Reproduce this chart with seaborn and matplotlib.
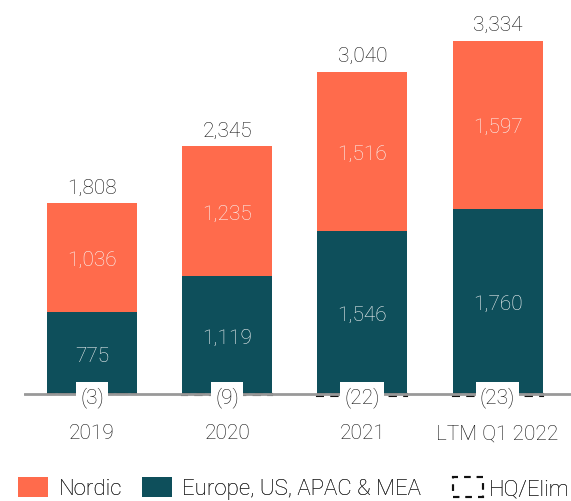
import matplotlib
matplotlib.use("Agg")
import matplotlib.pyplot as plt
import seaborn as sns
import pandas as pd
from matplotlib.patches import Patch

categories = ["2019", "2020", "2021", "LTM Q1 2022"]
europe = [775, 1119, 1546, 1760]
nordic = [1036, 1235, 1516, 1597]
hq_elim = [-3, -9, -22, -23]
totals = [1808, 2345, 3040, 3334]

ORANGE = "#FF6B4C"
TEAL = "#0E4F5B"
TXT = "#111111"

sns.set_theme(style="white")
plt.rcParams["font.family"] = ["Roboto", "DejaVu Sans"]
plt.rcParams["font.weight"] = "light"

df = pd.DataFrame({"cat": categories, "europe": europe, "nordic": nordic,
                   "hq": hq_elim, "stack": [e + n for e, n in zip(europe, nordic)]})

W, H = 571, 502
fig = plt.figure(figsize=(W / 100, H / 100), dpi=100)
ax = fig.add_axes([24 / W, 0, 1 - 24 / W, 1])

bw = 0.666
sns.barplot(data=df, x="cat", y="stack", color=ORANGE, width=bw, saturation=1,
            ax=ax, linewidth=0, order=categories)
sns.barplot(data=df, x="cat", y="europe", color=TEAL, width=bw, saturation=1,
            ax=ax, linewidth=0, order=categories)
sns.barplot(data=df, x="cat", y="hq", width=bw, fill=False, color=TXT,
            linestyle=(0, (4, 3)), linewidth=1.5, ax=ax, order=categories)

# pixel mapping: baseline at 395 px from top
scale = 0.1053
base = 395
ax.set_ylim((base - H) / scale, base / scale)
sp_x = 135.2
c0 = 92
ax.set_xlim((24 - c0) / sp_x, (W - c0) / sp_x)
ax.axhline(0, color="#999999", linewidth=2, zorder=1)

for sp in ax.spines.values():
    sp.set_visible(False)
ax.set_xticks([])
ax.set_yticks([])
ax.set_xlabel("")
ax.set_ylabel("")

fs = 15
half = 7.4  # half digit height in px
for i, cat in enumerate(categories):
    e, n, h, t = europe[i], nordic[i], hq_elim[i], totals[i]
    ax.text(i, e + n + (17.8 - half) / scale, f"{t:,}", ha="center",
            va="baseline", fontsize=fs, color=TXT)
    ax.text(i, e + n / 2 - half / scale, f"{n:,}", ha="center", va="baseline",
            fontsize=fs, color="#F8F8F8")
    ax.text(i, e / 2 - half / scale, f"{e:,}", ha="center", va="baseline",
            fontsize=fs, color="#F8F8F8")
    ax.text(i, -8.4 / scale, f"({abs(h)})", ha="center", va="baseline",
            fontsize=fs, color=TXT, zorder=5,
            bbox=dict(boxstyle="square,pad=0.2", fc="white", ec="none"))
    ax.text(i, -44.4 / scale, cat, ha="center", va="baseline",
            fontsize=fs, color=TXT)

items = [
    (Patch(facecolor=ORANGE, edgecolor="none", label="Nordic"), 18, 0.5),
    (Patch(facecolor=TEAL, edgecolor="none", label="Europe, US, APAC & MEA"), 142, 0.45),
    (Patch(facecolor="none", edgecolor=TXT, linestyle=(0, (3, 3)),
           linewidth=1.5, label="HQ/Elim"), 453, 0.25),
]
for handle, xpx, pad in items:
    leg = fig.legend(handles=[handle], loc="center left",
                     bbox_to_anchor=(xpx / W, 1 - 489 / H), frameon=False,
                     fontsize=16, handlelength=1.35, handleheight=1.04,
                     handletextpad=pad, borderaxespad=0, borderpad=0)
    fig.add_artist(leg)

fig.savefig("out.png", dpi=100)
